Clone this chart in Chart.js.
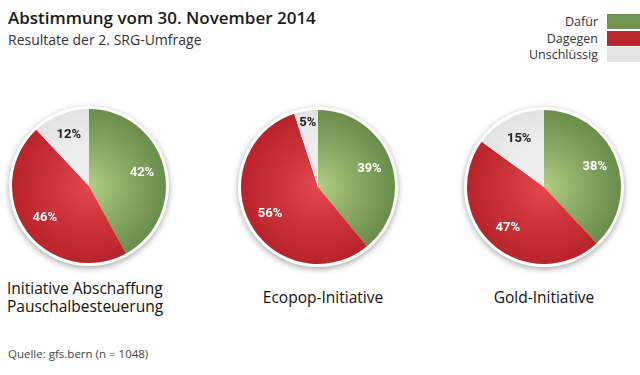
<!DOCTYPE html>
<html>
<head>
<meta charset="utf-8">
<script src="https://cdn.jsdelivr.net/npm/chart.js@4"></script>
<style>
    html, body { margin: 0; padding: 0; background: #fff; }
    body { width: 640px; height: 375px; position: relative; overflow: hidden; font-family: 'Open Sans', sans-serif; color: #1a1a1a; }
    .title { position: absolute; left: 8px; top: 6px; font-size: 17px; font-weight: 600; }
    .subtitle { position: absolute; left: 8px; top: 30px; font-size: 14px; color: #333; }
    .legend { position: absolute; right: 0; top: 14px; }
    .legend .row { display: flex; justify-content: flex-end; align-items: center; height: 15px; margin-bottom: 1.5px; font-size: 12.5px; color: #333; }
    .legend .sw { width: 33px; height: 15px; margin-left: 9px; }
    .pie { position: absolute; width: 176px; height: 176px; }
    .name { position: absolute; font-size: 15.5px; color: #111; line-height: 18px; }
    .source { position: absolute; left: 8px; top: 346px; font-size: 11.5px; color: #444; }
</style>
</head>
<body>
<div class="title">Abstimmung vom 30. November 2014</div>
<div class="subtitle">Resultate der 2. SRG-Umfrage</div>
<div class="legend" id="legend"></div>

<div class="pie" style="left:1px;top:98px"><canvas id="pie0"></canvas></div>
<div class="pie" style="left:230px;top:99px"><canvas id="pie1"></canvas></div>
<div class="pie" style="left:456px;top:99px"><canvas id="pie2"></canvas></div>

<div class="name" style="left:7px;top:279px">Initiative Abschaffung<br>Pauschalbesteuerung</div>
<div class="name" style="left:228px;top:288px;width:190px;text-align:center">Ecopop-Initiative</div>
<div class="name" style="left:449px;top:288px;width:190px;text-align:center">Gold-Initiative</div>

<div class="source">Quelle: gfs.bern (n = 1048)</div>

<script>
// Categories and poll results (%)
const categories = ['Dafür', 'Dagegen', 'Unschlüssig'];
const initiatives = ['Initiative Abschaffung Pauschalbesteuerung', 'Ecopop-Initiative', 'Gold-Initiative'];
const pauschal = [42, 46, 12];
const ecopop = [39, 56, 5];
const gold = [38, 47, 15];

const COLORS = {
    green: '#6a8d4c',
    greenLight: '#b0cf82',
    red: '#b8242a',
    redLight: '#e5484e',
    grey: '#e2e2e2',
    greyLight: '#ededed',
};
const legendColors = ['#6f9352', '#b8292e', '#e4e4e4'];

// legend
const legend = document.getElementById('legend');
categories.forEach((c, i) => {
    const row = document.createElement('div');
    row.className = 'row';
    row.innerHTML = '<span>' + c + '</span><span class="sw" style="background:' + legendColors[i] + '"></span>';
    legend.appendChild(row);
});

// radial shading: lighter in the middle, darker at the rim
function sliceColor(ctx) {
    const chart = ctx.chart;
    const area = chart.chartArea;
    const pairs = [[COLORS.greenLight, COLORS.green], [COLORS.redLight, COLORS.red], [COLORS.greyLight, COLORS.grey]];
    const p = pairs[ctx.dataIndex];
    if (!area) return p[1];
    const cx = (area.left + area.right) / 2;
    const cy = (area.top + area.bottom) / 2;
    const r = Math.min(area.right - area.left, area.bottom - area.top) / 2;
    const g = chart.ctx.createRadialGradient(cx, cy, 0, cx, cy, r);
    g.addColorStop(0, p[0]);
    g.addColorStop(0.55, p[0] === COLORS.greyLight ? p[0] : blend(p[0], p[1]));
    g.addColorStop(1, p[1]);
    return g;
}

function blend(a, b) {
    const pa = [1, 3, 5].map(i => parseInt(a.substr(i, 2), 16));
    const pb = [1, 3, 5].map(i => parseInt(b.substr(i, 2), 16));
    return 'rgb(' + pa.map((v, i) => Math.round(v * 0.4 + pb[i] * 0.6)).join(',') + ')';
}

// white rim + soft shadow behind the pie
const rimPlugin = {
    id: 'rim',
    beforeDatasetsDraw(chart) {
        const arc = chart.getDatasetMeta(0).data[0];
        if (!arc) return;
        const c = chart.ctx;
        c.save();
        c.shadowColor = 'rgba(0,0,0,0.35)';
        c.shadowBlur = 6;
        c.shadowOffsetY = 2;
        c.fillStyle = '#fff';
        c.beginPath();
        c.arc(arc.x, arc.y, arc.outerRadius + 3, 0, Math.PI * 2);
        c.fill();
        c.restore();
    }
};

// percentage labels inside slices
const labelPlugin = {
    id: 'pctLabels',
    afterDatasetsDraw(chart) {
        const c = chart.ctx;
        const meta = chart.getDatasetMeta(0);
        const values = chart.data.datasets[0].data;
        c.save();
        c.font = 'bold 13px Roboto, sans-serif';
        c.textAlign = 'center';
        c.textBaseline = 'middle';
        meta.data.forEach((arc, i) => {
            const mid = (arc.startAngle + arc.endAngle) / 2;
            const r = arc.outerRadius * (i === 2 && values[i] < 8 ? 0.85 : 0.71);
            c.fillStyle = i === 2 ? '#222' : '#fff';
            c.fillText(values[i] + '%', arc.x + Math.cos(mid) * r, arc.y + Math.sin(mid) * r);
        });
        c.restore();
    }
};

[pauschal, ecopop, gold].forEach((vals, k) => {
    new Chart(document.getElementById('pie' + k), {
        type: 'pie',
        data: {
            labels: categories,
            datasets: [{
                label: initiatives[k],
                data: vals,
                backgroundColor: sliceColor,
                borderWidth: 0,
            }]
        },
        options: {
            responsive: true,
            maintainAspectRatio: false,
            animation: false,
            layout: { padding: 11 },
            plugins: {
                legend: { display: false },
                tooltip: { enabled: false },
            },
        },
        plugins: [rimPlugin, labelPlugin],
    });
});
</script>
</body>
</html>
